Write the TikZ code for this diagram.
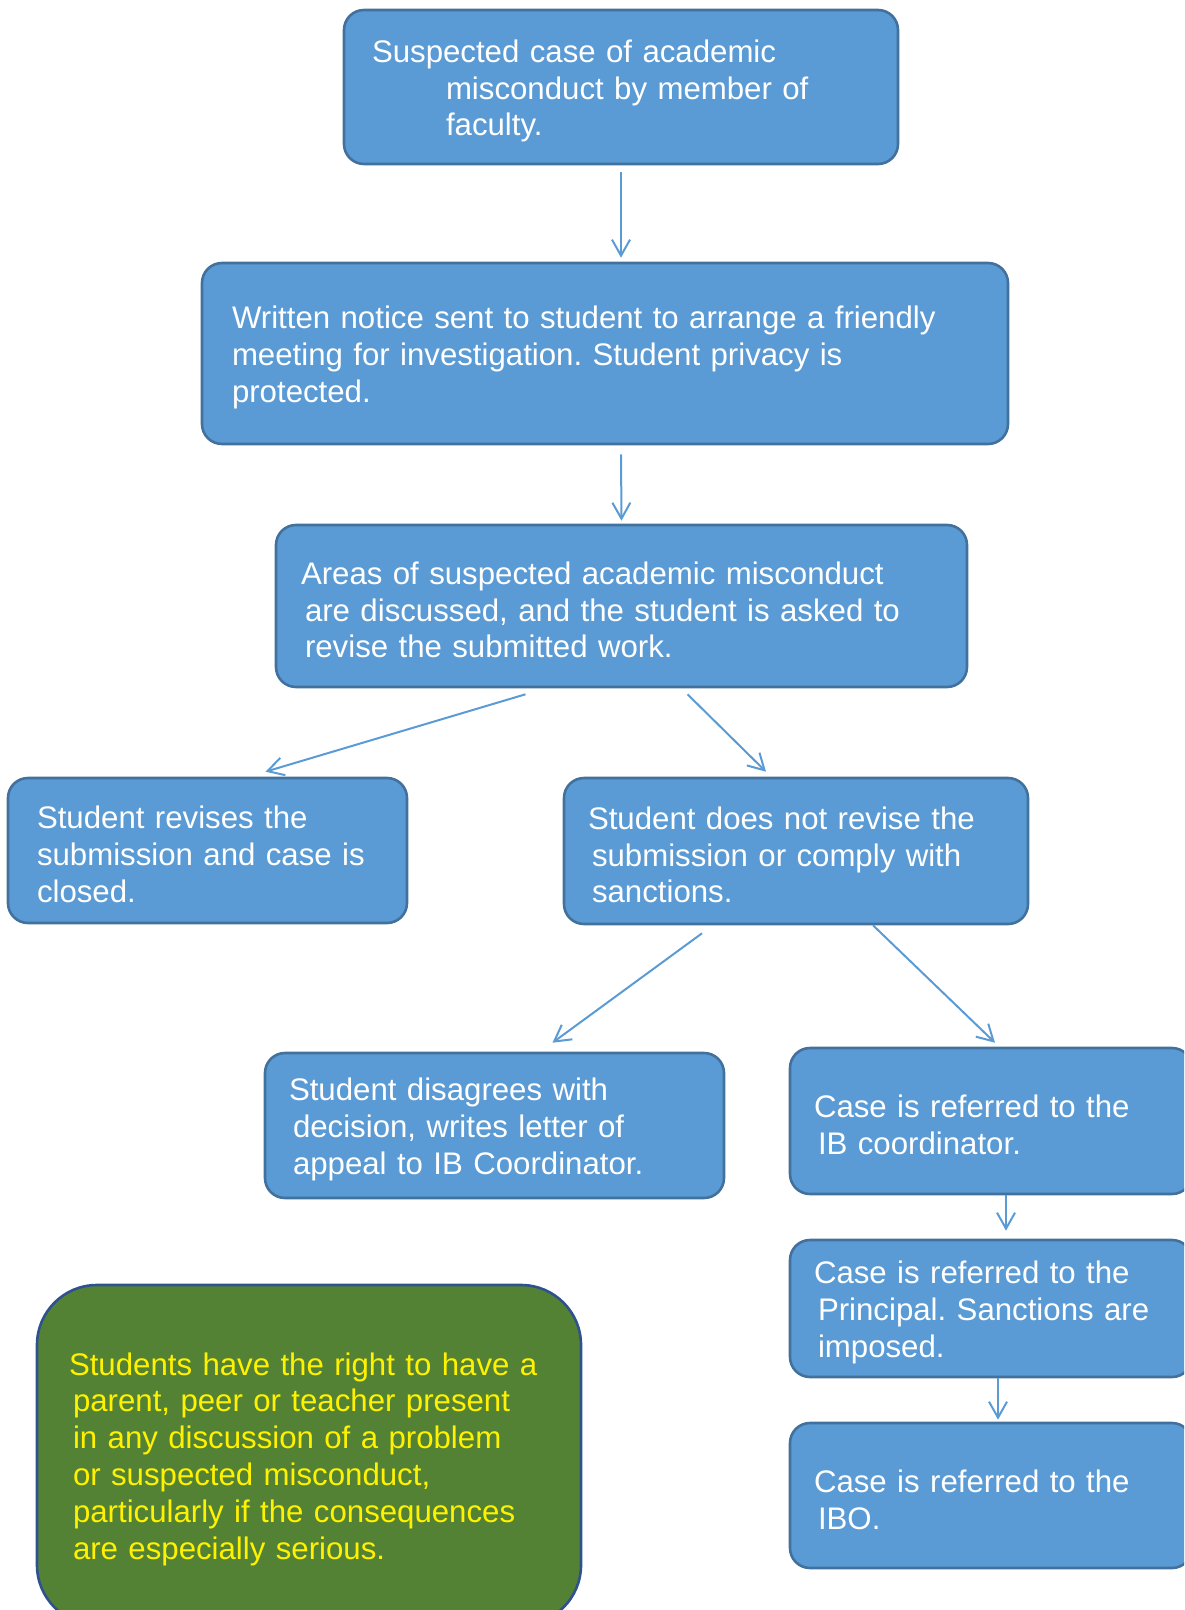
\documentclass[tikz,border=0pt]{standalone}
\usepackage{fontspec}
\setmainfont{Liberation Sans}
\usetikzlibrary{arrows.meta}
\definecolor{boxblue}{HTML}{5B9BD5}
\definecolor{boxline}{HTML}{41719C}
\definecolor{notegreen}{HTML}{548235}
\definecolor{noteline}{HTML}{2F528F}
% small indent for continuation lines
\newcommand{\contind}{\hspace*{2pt}}
\begin{document}
\begin{tikzpicture}[x=0.5pt, y=-0.5pt,
    >={Straight Barb[length=8pt,width=9pt]},
    every node/.style={font=\fontsize{15.6}{18.4}\selectfont\frenchspacing,
        execute at begin node={\rule{0pt}{15.3pt}}},
    stepbox/.style={draw=boxline, line width=1.3pt, fill=boxblue, rounded corners=10pt,
        text=white, align=left, inner xsep=12pt},
    notebox/.style={draw=noteline, line width=1.3pt, fill=notegreen, rounded corners=30pt,
        text=yellow, align=left, inner xsep=16pt},
    flow/.style={->, draw=boxblue, line width=1pt}]
    \path[use as bounding box, clip] (0,0) rectangle (1184,1610);

    \node[stepbox, text width=249pt, minimum height=77pt, inner xsep=14pt] (case) at (621,87)
        {Suspected case of academic\\ \hspace*{37pt}misconduct by member of\\ \hspace*{37pt}faculty.};
    \node[stepbox, text width=373pt, minimum height=90.5pt, inner xsep=15pt] (notice) at (605,353.5)
        {Written notice sent to student to arrange a friendly\\ meeting for investigation. Student privacy is\\ protected.};
    \node[stepbox, text width=320.5pt, minimum height=81pt, inner xsep=12.5pt] (meeting) at (621.5,606)
        {Areas of suspected academic misconduct\\ \contind are discussed, and the student is asked to\\ \contind revise the submitted work.};
    \node[stepbox, text width=170.5pt, minimum height=72.5pt, inner xsep=14.5pt] (revised) at (207.5,850.5)
        {Student revises the\\ submission and case is\\ closed.};
    \node[stepbox, text width=208pt, minimum height=73pt] (noncomply) at (796,851)
        {Student does not revise the\\ \contind submission or comply with\\ \contind sanctions.};
    \node[stepbox, text width=205.5pt, minimum height=72.5pt] (appeal) at (494.5,1125.5)
        {Student disagrees with\\ \contind decision, writes letter of\\ \contind appeal to IB Coordinator.};
    \node[stepbox, text width=177pt, minimum height=73pt] (coord) at (991,1121)
        {Case is referred to the\\ \contind IB coordinator.};
    \node[stepbox, text width=177pt, minimum height=68.5pt] (principal) at (991,1308.5)
        {Case is referred to the\\ \contind Principal. Sanctions are\\ \contind imposed.};
    \node[stepbox, text width=177pt, minimum height=72.5pt] (ibo) at (991,1495.5)
        {Case is referred to the\\ \contind IBO.};
    \node[notebox, text width=240pt, minimum height=170pt] (rights) at (309,1455)
        {Students have the right to have a\\ \contind parent, peer or teacher present\\ \contind in any discussion of a problem\\
         \contind or suspected misconduct,\\ \contind particularly if the consequences\\ \contind are especially serious.};

    \draw[flow] ([yshift=-3.5pt]case.south) -- ([xshift=8pt,yshift=2pt]notice.north);
    \draw[flow] ([xshift=8pt,yshift=-4.5pt]notice.south) -- ([yshift=1.5pt]meeting.north);
    \draw[flow] ([xshift=-48pt,yshift=-3pt]meeting.south) -- ([xshift=29pt,yshift=2.5pt]revised.north);
    \draw[flow] ([xshift=33pt,yshift=-3pt]meeting.south) -- ([xshift=-15pt,yshift=2.5pt]noncomply.north);
    \draw[flow] ([xshift=-47pt,yshift=-4pt]noncomply.south) -- ([xshift=29pt,yshift=4.5pt]appeal.north);
    \draw[flow] ([xshift=38.5pt]noncomply.south) -- ([xshift=2pt,yshift=2pt]coord.north);
    \draw[flow] ([xshift=7.5pt]coord.south) -- ([xshift=7.5pt,yshift=4pt]principal.north);
    \draw[flow] ([xshift=3.5pt]principal.south) -- ([xshift=3.5pt,yshift=1pt]ibo.north);
\end{tikzpicture}
\end{document}
